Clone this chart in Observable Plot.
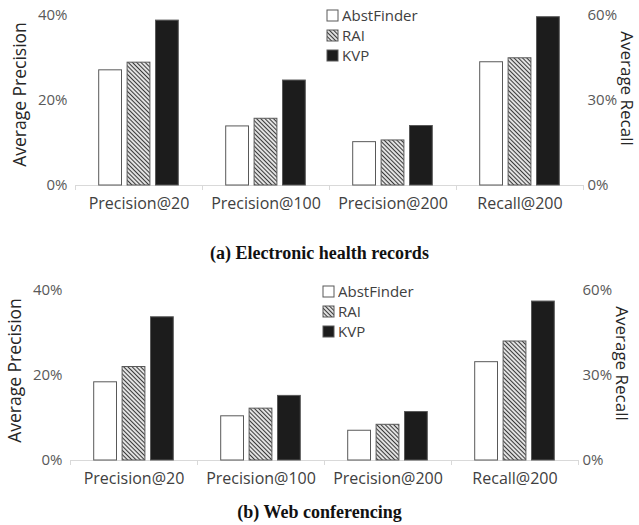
<!DOCTYPE html>
<html>
<head>
<meta charset="utf-8">
<script src="https://cdn.jsdelivr.net/npm/d3@7"></script>
<script src="https://cdn.jsdelivr.net/npm/@observablehq/plot@0.6"></script>
<style>
  html, body { margin: 0; padding: 0; background: #fff; }
  body { width: 639px; height: 525px; overflow: hidden; position: relative; }
  .panel { position: relative; width: 639px; }
  .panel svg { display: block; }
  .cap { font-family: "Liberation Serif", "Times New Roman", serif; font-weight: bold; font-size: 18px;
         text-align: center; color: #111; line-height: 20px; width: 639px; }
  .leg { position: absolute; }
  .leg .lg-swatches { font-family: "Open Sans", sans-serif; font-size: 15px; color: #404040; margin: 0; line-height: 19px; }
  .leg .lg-swatch svg { margin-right: 4px; }
  .leg .lg-swatch rect { stroke: #595959; stroke-width: 1px; }
</style>
</head>
<body>
<svg width="0" height="0" style="position:absolute">
  <defs>
    <pattern id="hatch" patternUnits="userSpaceOnUse" width="3" height="3" patternTransform="rotate(-45)">
      <rect width="3" height="3" fill="#ffffff"></rect>
      <line x1="1.5" y1="0" x2="1.5" y2="3" stroke="#3a3a3a" stroke-width="1.3"></line>
    </pattern>
  </defs>
</svg>
<div id="root"></div>
<script>
const categories = ["Precision@20", "Precision@100", "Precision@200", "Recall@200"];
const methods = ["AbstFinder", "RAI", "KVP"];
const methodFills = ["#ffffff", "url(#hatch)", "#1c1c1c"];

// (a) Electronic health records  (precision %, last value = recall %)
const ehrAbstFinder = [27.1, 13.9, 10.2, 43.5];
const ehrRAI        = [28.9, 15.7, 10.6, 44.9];
const ehrKVP        = [38.8, 24.7, 14.0, 59.4];

// (b) Web conferencing
const webAbstFinder = [18.4, 10.4, 7.0, 34.7];
const webRAI        = [22.0, 12.2, 8.4, 42.0];
const webKVP        = [33.7, 15.2, 11.4, 56.1];

const precisionTicks = [0, 20, 40];
const recallTicks = [0, 30, 60];
const precisionMax = 40;
const recallMax = 60;

const leftTitle = "Average Precision";
const rightTitle = "Average Recall";
const captions = ["(a) Electronic health records", "(b) Web conferencing"];

function rows(series) {
  return methods.flatMap((m, j) => categories.map((c, i) => ({
    category: c,
    method: m,
    value: series[j][i],
    y: c.startsWith("Recall") ? series[j][i] * precisionMax / recallMax : series[j][i]
  })));
}

function panel(data, ml, mr, dyLeft) {
  const W = 639;
  const step = (W - ml - mr) / categories.length;
  const barW = 22.8, gap = 28.4;
  const inset = (step - barW) / 2;
  return Plot.plot({
    width: W, height: 225,
    marginLeft: ml, marginRight: mr, marginTop: 15, marginBottom: 40,
    style: { fontFamily: "Open Sans", fontSize: "15px", background: "transparent", overflow: "visible" },
    x: { domain: categories, padding: 0, label: null },
    y: { domain: [0, precisionMax], label: null },
    marks: [
      Plot.ruleY([0], { stroke: "#d9d9d9", strokeWidth: 1 }),
      Plot.axisX(categories, { tickSize: 5, tickFormat: () => "", dx: -step / 2, stroke: "#d9d9d9", label: null }),
      Plot.axisX(categories.slice(-1), { tickSize: 5, tickFormat: () => "", dx: step / 2, stroke: "#d9d9d9", label: null }),
      Plot.axisX(categories, { tickSize: 0, tickPadding: 12, fontSize: 16, color: "#404040", label: null }),
      ...methods.map((m, j) => Plot.barY(data.filter(d => d.method === m), {
        x: "category", y: "y",
        fill: methodFills[j], stroke: "#595959", strokeWidth: 1,
        insetLeft: inset, insetRight: inset, dx: (j - 1) * gap
      })),
      Plot.axisY(precisionTicks, { anchor: "left", tickSize: 0, tickPadding: 8, tickFormat: d => d + "%", color: "#595959", label: null }),
      Plot.axisY(recallTicks.map(d => d * precisionMax / recallMax), {
        anchor: "right", tickSize: 0, tickPadding: 4,
        tickFormat: d => Math.round(d * recallMax / precisionMax) + "%", color: "#595959", label: null
      }),
      Plot.text([leftTitle], { text: d => d, frameAnchor: "left", textAnchor: "middle", lineAnchor: "middle", rotate: -90, dx: -55, dy: dyLeft, fontSize: 17.5, fill: "#262626" }),
      Plot.text([rightTitle], { text: d => d, frameAnchor: "right", textAnchor: "middle", lineAnchor: "middle", rotate: 90, dx: 43, dy: -12, fontSize: 17, fill: "#262626" })
    ]
  });
}

function legend() {
  return Plot.legend({
    color: { type: "ordinal", domain: methods, range: methodFills },
    columns: 1, swatchSize: 11, className: "lg"
  });
}

const root = document.getElementById("root");

// Panel (a)
const pa = document.createElement("div"); pa.className = "panel";
pa.appendChild(panel(rows([ehrAbstFinder, ehrRAI, ehrKVP]), 75, 56, -6));
const la = document.createElement("div"); la.className = "leg"; la.style.left = "327px"; la.style.top = "6px";
la.appendChild(legend()); pa.appendChild(la);
root.appendChild(pa);

const ca = document.createElement("div"); ca.className = "cap";
ca.style.paddingTop = "18px"; ca.style.height = "32px"; ca.textContent = captions[0];
root.appendChild(ca);

// Panel (b)
const pb = document.createElement("div"); pb.className = "panel";
pb.appendChild(panel(rows([webAbstFinder, webRAI, webKVP]), 70, 61, -5));
const lb = document.createElement("div"); lb.className = "leg"; lb.style.left = "323px"; lb.style.top = "7px";
lb.appendChild(legend()); pb.appendChild(lb);
root.appendChild(pb);

const cb = document.createElement("div"); cb.className = "cap";
cb.style.paddingTop = "2px"; cb.style.height = "23px"; cb.textContent = captions[1];
root.appendChild(cb);
</script>
</body>
</html>
